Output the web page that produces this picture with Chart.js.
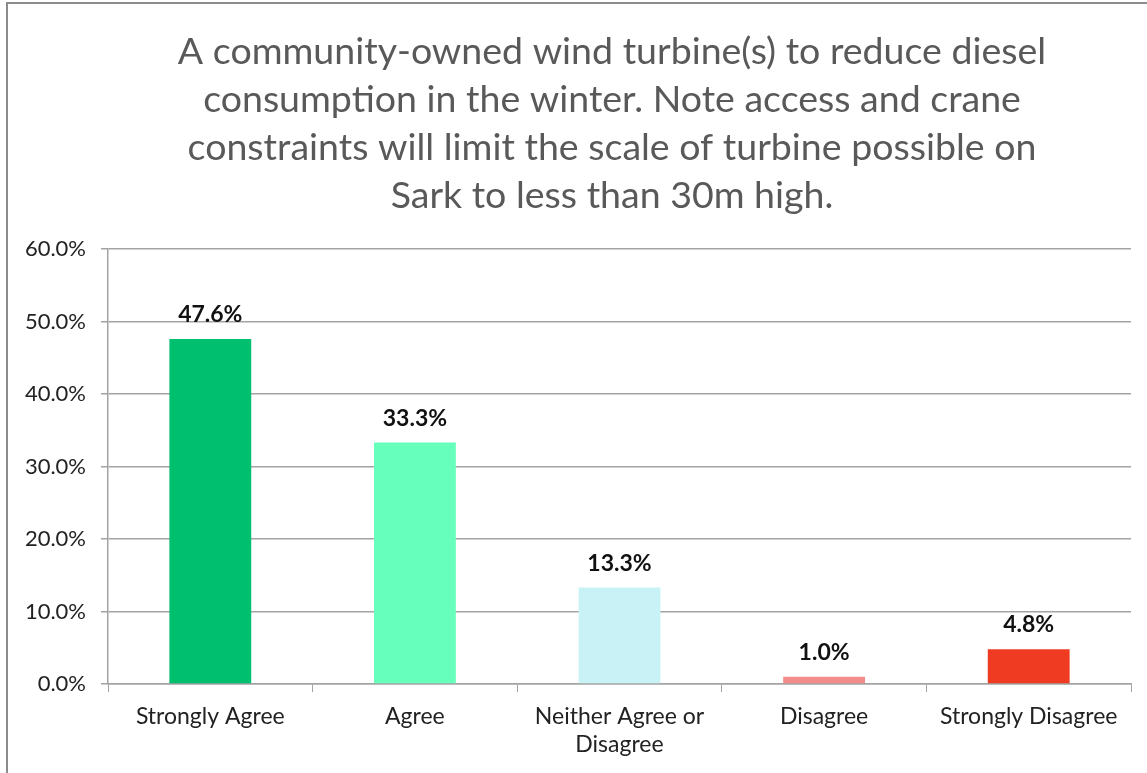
<!DOCTYPE html>
<html>
<head>
<meta charset="utf-8">
<title>Community-owned wind turbine</title>
<script src="https://cdn.jsdelivr.net/npm/chart.js@4.4.1/dist/chart.umd.min.js"></script>
<style>
  html, body { margin: 0; padding: 0; background: #fff; overflow: hidden; }
  #wrap { position: relative; width: 1147px; height: 773px; }
  #frame {
    position: absolute; left: 6px; top: 2px; width: 1200px; height: 800px;
    border-top: 2px solid #8c8c8c; border-left: 2px solid #8c8c8c;
    pointer-events: none;
  }
</style>
</head>
<body>
<div id="wrap">
  <canvas id="chart" width="1147" height="773"></canvas>
  <div id="frame"></div>
</div>
<script>
// Chart data
const titleLines = [
  'A community-owned wind turbine(s) to reduce diesel',
  'consumption in the winter. Note access and crane',
  'constraints will limit the scale of turbine possible on',
  'Sark to less than 30m high.'
];
const categories = [
  'Strongly Agree',
  'Agree',
  ['Neither Agree or', 'Disagree'],
  'Disagree',
  'Strongly Disagree'
];
const percentages = [47.6, 33.3, 13.3, 1.0, 4.8];
const barColors = ['#00bf6f', '#66ffbb', '#c9f2f6', '#f48b8b', '#ee3b22'];
const yTicks = [0, 10, 20, 30, 40, 50, 60];

const FONT = 'Lato, "Open Sans", sans-serif';
const GRID = '#a3a3a3';

// Title drawn by hand: it is centred on the outer frame, not the canvas
const chartTitle = {
  id: 'chartTitle',
  afterDraw(chart) {
    const ctx = chart.ctx;
    ctx.save();
    ctx.font = '37.5px ' + FONT;
    ctx.fillStyle = '#595959';
    ctx.textAlign = 'center';
    ctx.textBaseline = 'middle';
    titleLines.forEach((line, i) => {
      ctx.fillText(line, 612, 52 + i * 48);
    });
    ctx.restore();
  }
};

// Draw the value above each bar
const valueLabels = {
  id: 'valueLabels',
  afterDatasetsDraw(chart) {
    const ctx = chart.ctx;
    const meta = chart.getDatasetMeta(0);
    ctx.save();
    ctx.font = 'bold 23px ' + FONT;
    ctx.fillStyle = '#111';
    ctx.textAlign = 'center';
    ctx.textBaseline = 'alphabetic';
    meta.data.forEach((bar, i) => {
      ctx.fillText(percentages[i].toFixed(1) + '%', bar.x, bar.y - 17);
    });
    ctx.restore();
  }
};

const ctx = document.getElementById('chart').getContext('2d');
new Chart(ctx, {
  type: 'bar',
  data: {
    labels: categories,
    datasets: [{
      data: percentages,
      backgroundColor: barColors,
      borderWidth: 0,
      barPercentage: 0.4,
      categoryPercentage: 1
    }]
  },
  options: {
    responsive: false,
    animation: false,
    events: [],
    layout: { padding: { left: 0, right: 16, top: 249, bottom: 0 } },
    plugins: {
      legend: { display: false },
      tooltip: { enabled: false },
      title: { display: false }
    },
    scales: {
      x: {
        ticks: { color: '#222', font: { family: FONT, size: 23 }, padding: 11, maxRotation: 0 },
        grid: { display: true, drawOnChartArea: false, offset: true, tickLength: 8, color: GRID },
        border: { color: GRID, width: 1.5 },
        afterFit(scale) { scale.height = 89; }
      },
      y: {
        min: yTicks[0],
        max: yTicks[yTicks.length - 1],
        afterBuildTicks(scale) { scale.ticks = yTicks.map(v => ({ value: v })); },
        ticks: {
          color: '#222',
          font: { family: FONT, size: 22 },
          padding: 15,
          callback: v => v.toFixed(1) + '%'
        },
        grid: { color: GRID, lineWidth: 1.5, tickLength: 7 },
        border: { color: GRID, width: 1.5 },
        afterFit(scale) { scale.width = 108; }
      }
    }
  },
  plugins: [valueLabels, chartTitle]
});
</script>
</body>
</html>
